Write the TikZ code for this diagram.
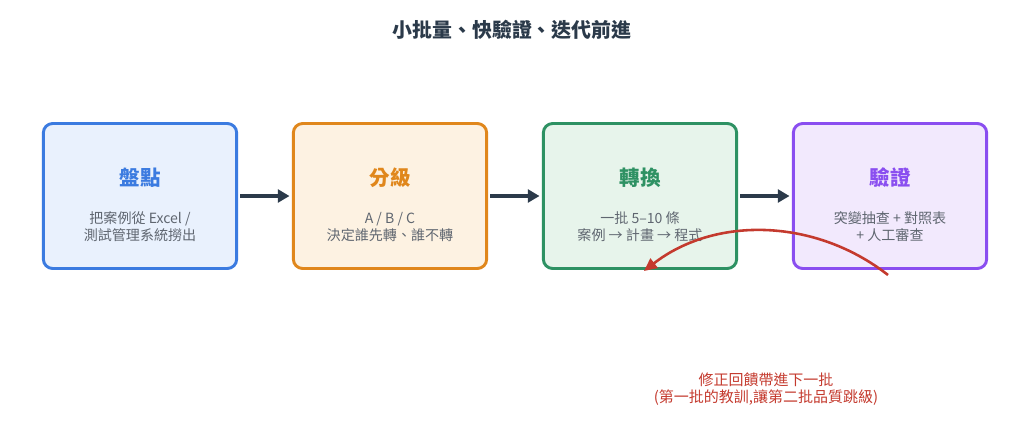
\documentclass[tikz,border=0pt]{standalone}
\usepackage{fontspec}
\setmainfont{Noto Sans CJK TC}
\usetikzlibrary{arrows.meta, positioning}
\definecolor{navy}{HTML}{2B3A4A}
\definecolor{bodygray}{HTML}{5F6670}
\definecolor{bluec}{HTML}{3B7BE0}\definecolor{bluef}{HTML}{E9F1FD}
\definecolor{orangec}{HTML}{E0871C}\definecolor{orangef}{HTML}{FDF2E2}
\definecolor{greenc}{HTML}{2E9163}\definecolor{greenf}{HTML}{E7F4EB}
\definecolor{purplec}{HTML}{8A4EF0}\definecolor{purplef}{HTML}{F2E9FD}
\definecolor{redc}{HTML}{C43A2E}
\begin{document}
\begin{tikzpicture}[x=0.03cm, y=-0.03cm,
    box/.style={rectangle, rounded corners=8pt, line width=2.5pt, minimum width=5.8cm, minimum height=4.35cm},
    head/.style={font=\fontsize{17.5}{20}\selectfont\bfseries},
    body/.style={font=\fontsize{12}{14.5}\selectfont, text=bodygray, align=center},
    arrow/.style={-{Triangle[length=10pt,width=11pt]}, line width=2.6pt, navy, shorten <=2pt, shorten >=2pt}
]
\useasboundingbox (0,0) rectangle (1024,444);

% Title
\node[font=\fontsize{17}{20}\selectfont\bfseries, text=navy] (title) at (512,30) {小批量、快驗證、迭代前進};

% Steps
\node[box, draw=bluec, fill=bluef] (inv) at (140,196) {};
\node[box, draw=orangec, fill=orangef] (grade) at (390,196) {};
\node[box, draw=greenc, fill=greenf] (conv) at (640,196) {};
\node[box, draw=purplec, fill=purplef] (veri) at (890,196) {};

\node[head, text=bluec] at (140,178) {盤點};
\node[head, text=orangec] at (390,178) {分級};
\node[head, text=greenc] at (640,178) {轉換};
\node[head, text=purplec] at (890,178) {驗證};

\node[body] at (140,227) {把案例從 Excel /\\測試管理系統撈出};
\node[body] at (390,227) {A / B / C\\決定誰先轉、誰不轉};
\node[body] at (640,227) {一批 5–10 條\\案例 → 計畫 → 程式};
\node[body] at (890,227) {突變抽查 + 對照表\\+ 人工審查};

% Arrows
\draw[arrow] (inv) -- (grade);
\draw[arrow] (grade) -- (conv);
\draw[arrow] (conv) -- (veri);

% Feedback
\coordinate (fbs) at (888,275);
\coordinate (fbe) at (644,271);
\draw[-{Triangle[length=11pt,width=10pt]}, line width=2.2pt, redc] (fbs) .. controls (815,218) and (715,216) .. (fbe);
\node[font=\fontsize{12.8}{15}\selectfont, text=redc, align=center] (fbtext) at (766,389) {修正回饋帶進下一批\\(第一批的教訓,讓第二批品質跳級)};
\end{tikzpicture}
\end{document}
